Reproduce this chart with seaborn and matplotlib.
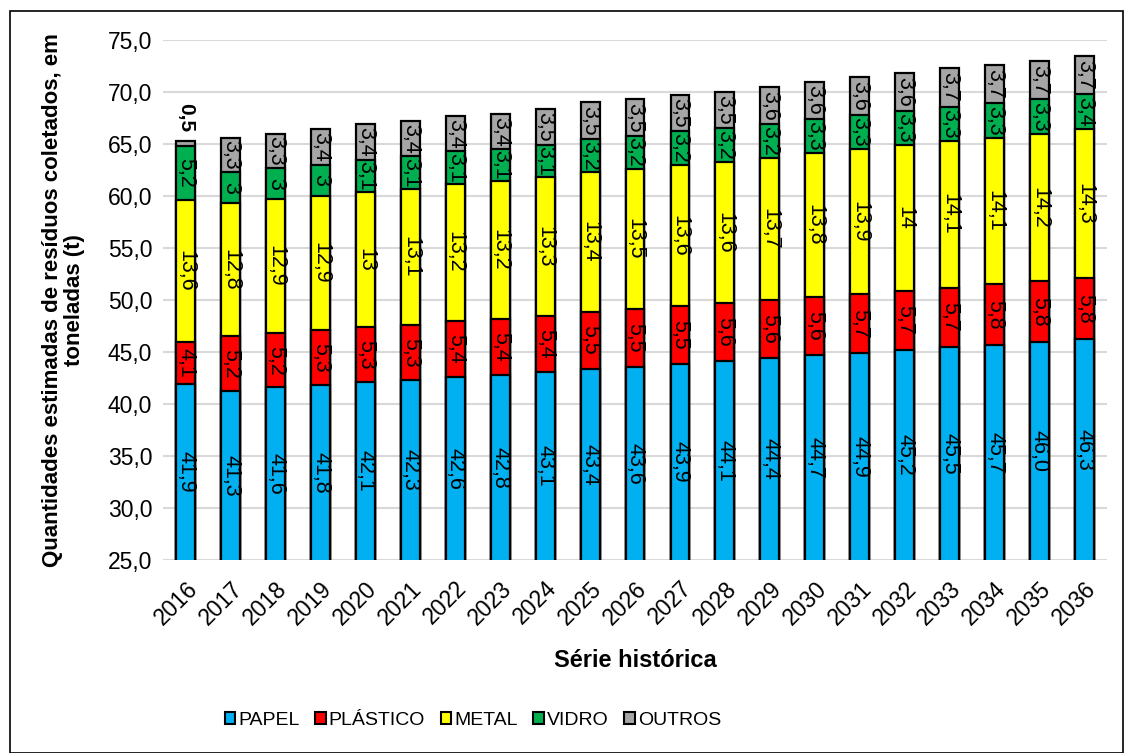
import numpy as np
import pandas as pd
import seaborn as sns
import matplotlib.pyplot as plt
from matplotlib.patches import Patch, Rectangle
from matplotlib.ticker import FuncFormatter

# ============================== DATA ==============================

years    = [str(y) for y in range(2016, 2037)]
papel    = [41.9, 41.3, 41.6, 41.8, 42.1, 42.3, 42.6, 42.8, 43.1, 43.4, 43.6,
            43.9, 44.1, 44.4, 44.7, 44.9, 45.2, 45.5, 45.7, 46.0, 46.3]
plastico = [4.1, 5.2, 5.2, 5.3, 5.3, 5.3, 5.4, 5.4, 5.4, 5.5, 5.5,
            5.5, 5.6, 5.6, 5.6, 5.7, 5.7, 5.7, 5.8, 5.8, 5.8]
metal    = [13.6, 12.8, 12.9, 12.9, 13.0, 13.1, 13.2, 13.2, 13.3, 13.4, 13.5,
            13.6, 13.6, 13.7, 13.8, 13.9, 14.0, 14.1, 14.1, 14.2, 14.3]
vidro    = [5.2, 3.0, 3.0, 3.0, 3.1, 3.1, 3.1, 3.1, 3.1, 3.2, 3.2,
            3.2, 3.2, 3.2, 3.3, 3.3, 3.3, 3.3, 3.3, 3.3, 3.4]
outros   = [0.5, 3.3, 3.3, 3.4, 3.4, 3.4, 3.4, 3.4, 3.5, 3.5, 3.5,
            3.5, 3.5, 3.6, 3.6, 3.6, 3.6, 3.7, 3.7, 3.7, 3.7]

series_names  = ["PAPEL", "PLÁSTICO", "METAL", "VIDRO", "OUTROS"]
series_values = [papel, plastico, metal, vidro, outros]
series_colors = ["#00B0F0", "#FF0000", "#FFFF00", "#00B050", "#A6A6A6"]

Y_MIN, Y_MAX = 25, 75

# ============================== PLOT ==============================

sns.set_theme(style="white")
plt.rcParams['font.family'] = ['Liberation Sans', 'DejaVu Sans']
plt.rcParams['text.color'] = 'black'
plt.rcParams['axes.labelcolor'] = 'black'
plt.rcParams['xtick.color'] = 'black'
plt.rcParams['ytick.color'] = 'black'

df = pd.DataFrame({"Ano": years})
for name, vals in zip(series_names, series_values):
    df[name] = vals
cum = df[series_names].cumsum(axis=1)

fig = plt.figure(figsize=(11.26, 7.53), dpi=100)
ax = fig.add_axes([0.145, 0.256, 0.838, 0.691])

# draw cumulative totals from top layer down so each segment stays visible
for name, color in reversed(list(zip(series_names, series_colors))):
    sns.barplot(x=df["Ano"], y=cum[name], color=color, saturation=1,
                width=0.42, edgecolor="black", linewidth=1.6, ax=ax, zorder=3)

# segment labels, centred on the visible part of each segment
for name in series_names:
    for i, v in enumerate(df[name]):
        top = cum[name].iloc[i]
        bottom = max(top - v, Y_MIN)
        if name == "PAPEL":
            txt = f"{v:.1f}".replace(".", ",")
        else:
            txt = f"{v:g}".replace(".", ",")
        if v < 1:
            ax.text(i, top + 2.2, txt, rotation=270, ha="center", va="center",
                    fontsize=15, fontweight="bold", zorder=5)
        else:
            ax.text(i, (top + bottom) / 2, txt, rotation=270, ha="center",
                    va="center", fontsize=15.5, zorder=5)

ax.set_ylim(Y_MIN, Y_MAX)
ax.set_xlim(-0.5, len(years) - 0.5)
ax.set_yticks(np.arange(Y_MIN, Y_MAX + 1, 5))
ax.yaxis.set_major_formatter(FuncFormatter(lambda v, p: f"{v:.1f}".replace(".", ",")))
ax.grid(axis="y", color="#D9D9D9", linewidth=1.5, zorder=0)
ax.set_axisbelow(True)
for s in ax.spines.values():
    s.set_visible(False)
ax.tick_params(axis="y", length=0, labelsize=16.5, pad=8)
ax.tick_params(axis="x", length=0, labelsize=16.5, pad=12)
plt.setp(ax.get_xticklabels(), rotation=45, ha="right", rotation_mode="anchor")

ax.set_ylabel("Quantidades estimadas de resíduos coletados, em\ntoneladas (t)",
              fontsize=16, fontweight="bold", labelpad=16, linespacing=1.1)
ax.set_xlabel("Série histórica", fontsize=17, fontweight="bold", labelpad=14)

handles = [Patch(facecolor=c, edgecolor="black", linewidth=1.5, label=n)
           for n, c in zip(series_names, series_colors)]
fig.legend(handles=handles, loc="center", bbox_to_anchor=(0.42, 0.043), ncol=5,
           frameon=False, fontsize=14, handlelength=0.55, handleheight=0.55,
           handletextpad=0.15, columnspacing=0.8)

fig.patches.append(Rectangle((0.009, 0.0), 0.988, 0.986, transform=fig.transFigure,
                             fill=False, edgecolor="black", linewidth=1.2))

fig.savefig("out.png", dpi=100)
